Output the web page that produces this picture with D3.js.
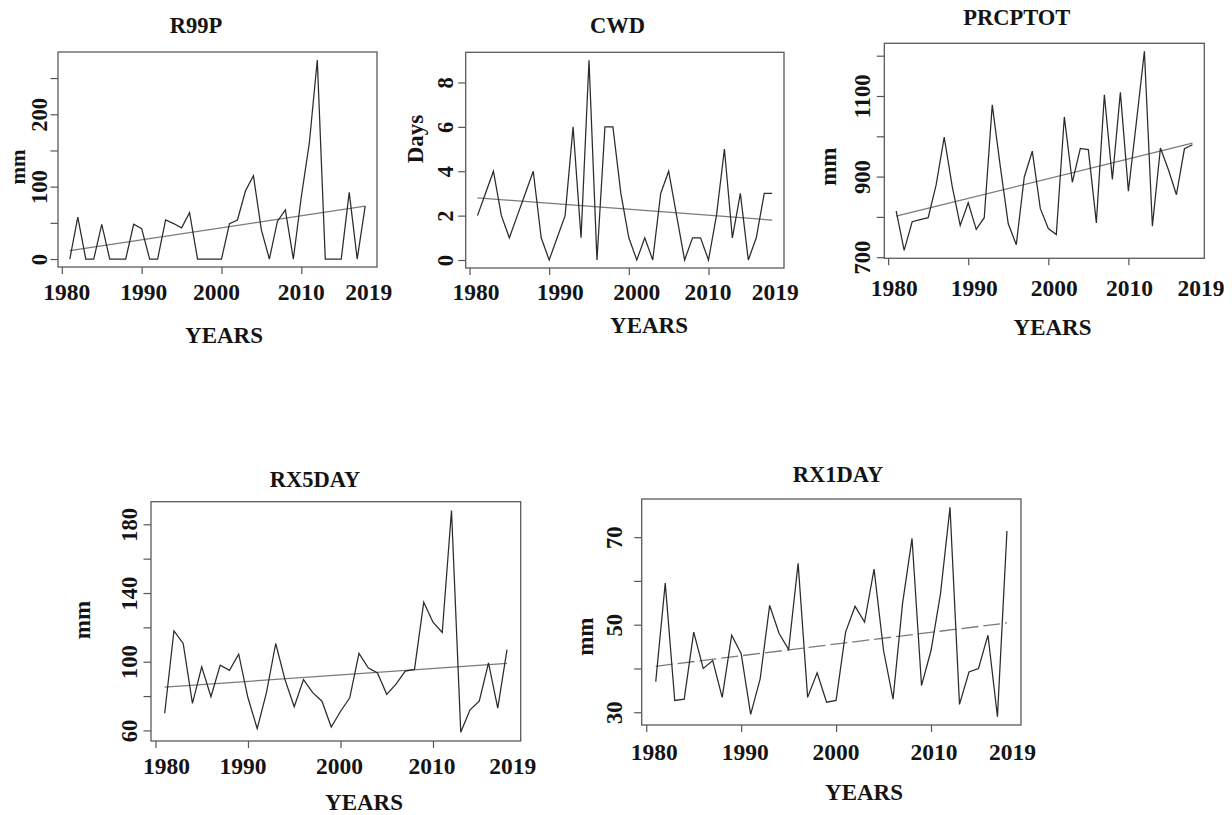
<!DOCTYPE html>
<html>
<head>
<meta charset="utf-8">
<script src="https://cdn.jsdelivr.net/npm/d3@7"></script>
<style>
	body { margin: 0; background: #fff; }
	svg { display: block; }
	svg text { font-family: 'Liberation Serif', 'Times New Roman', serif; font-weight: bold; }
</style>
</head>
<body>
<svg width="1232" height="815"></svg>
<script>
const years = d3.range(1981, 2019) // 1981 .. 2018
const r99p = [0, 58, 0, 0, 48, 0, 0, 0, 48, 42, 0, 0, 54, 49, 43, 64, 0, 0, 0, 0,
	49, 54, 94, 115, 40, 0, 52, 68, 0, 86, 160, 275, 0, 0, 0, 92, 0, 73]
const cwd = [2, 3, 4, 2, 1, 2, 3, 4, 1, 0, 1, 2, 6, 1, 9, 0, 6, 6, 3, 1,
	0, 1, 0, 3, 4, 2, 0, 1, 1, 0, 2, 5, 1, 3, 0, 1, 3, 3]
const prcptot = [815, 717, 788, 793, 798, 880, 998, 876, 779, 835, 769, 798, 1078, 926, 783, 731, 899, 963, 821, 771,
	756, 1048, 886, 970, 967, 785, 1103, 893, 1109, 864, 1035, 1211, 777, 971, 917, 855, 969, 979]
const rx5day = [70, 118, 110.6, 75.7, 97, 79.6, 98, 95, 104.4, 79, 61, 82, 110.6, 89.6, 73.8, 89.6, 82, 77, 62, 71,
	79, 104.8, 96.4, 93.5, 81, 87, 94.5, 95.5, 134.6, 123, 117, 188, 59, 72, 77, 99.3, 73, 107]
const rx1day = [37, 59.5, 32.7, 33, 48.3, 40, 41.8, 33.4, 47.6, 43.4, 29.5, 37.6, 54.4, 48, 44.3, 64, 33.4, 39, 32.3, 32.7,
	48.3, 54.2, 50.6, 62.7, 44.1, 33, 54.8, 69.7, 36.1, 44.1, 57.1, 76.8, 31.8, 39.2, 40, 47.6, 29, 71.4]

// fitted trend at first and last year
const trendYears = [1981, 2018]
const r99pTrend = [11.5, 73]
const cwdTrend = [2.8, 1.8]
const prcptotTrend = [802, 983]
const rx5dayTrend = [85.2, 99]
const rx1dayTrend = [40.5, 50.4]

const xTicks = [1980, 1990, 2000, 2010]
const xEndLabel = 2019

const panels = [
	{ title: 'R99P', ylab: 'mm', values: r99p, trend: r99pTrend,
		yTicks: [0, 50, 100, 150, 200, 250], yLabels: [0, 100, 200],
		box: [58, 52, 377, 267], titlePos: [196, 33], xlabPos: [224, 343], ylabPos: [25, 167], ylabSize: 21,
		ytOff: 11, xtOff: 33, shift: [5, 2, -5, 0, -4.5] },
	{ title: 'CWD', ylab: 'Days', values: cwd, trend: cwdTrend,
		yTicks: [0, 2, 4, 6, 8], yLabels: [0, 2, 4, 6, 8],
		box: [465.7, 52.3, 784, 268], titlePos: [617.5, 33], xlabPos: [649, 333], ylabPos: [423, 139], ylabSize: 23,
		ytOff: 12.5, xtOff: 32, shift: [6.5, 11, 8, -0.6, -5] },
	{ title: 'PRCPTOT', ylab: 'mm', values: prcptot, trend: prcptotTrend,
		yTicks: [700, 800, 900, 1000, 1100, 1200], yLabels: [700, 900, 1100],
		box: [884.3, 43.3, 1204.3, 258.3], titlePos: [1016.7, 25], xlabPos: [1052.5, 335], ylabPos: [836, 166.7], ylabSize: 23,
		ytOff: 14, xtOff: 37.5, shift: [6, 6, 6, 1, 0.5] },
	{ title: 'RX5DAY', ylab: 'mm', values: rx5day, trend: rx5dayTrend,
		yTicks: [60, 80, 100, 120, 140, 160, 180], yLabels: [60, 100, 140, 180],
		box: [151, 501.7, 520.7, 741], titlePos: [315, 486.7], xlabPos: [364, 809.5], ylabPos: [90, 620], ylabSize: 23,
		ytOff: 14, xtOff: 32.5, shift: [11, -5, -1, -1, -3.5] },
	{ title: 'RX1DAY', ylab: 'mm', values: rx1day, trend: rx1dayTrend, dashed: true,
		yTicks: [30, 40, 50, 60, 70], yLabels: [30, 50, 70],
		box: [641.7, 499, 1021, 725], titlePos: [838, 482.3], xlabPos: [864, 800], ylabPos: [593, 636.7], ylabSize: 23,
		ytOff: 20, xtOff: 35, shift: [8, 4, 0, 3, -4] },
]

const svg = d3.select('svg')
const ink = '#141414'

// R style limits: data range padded by 4% on each side
const pad = ext => {
	const p = (ext[1] - ext[0]) * 0.04
	return [ext[0] - p, ext[1] + p]
}

panels.forEach(p => {
	const [x0, y0, x1, y1] = p.box
	const x = d3.scaleLinear().domain(pad(d3.extent(years))).range([x0, x1])
	const y = d3.scaleLinear().domain(pad(d3.extent(p.values))).range([y1, y0])
	const g = svg.append('g').classed('panel', true)

	// axes: ticks pointing outward, no domain line (the box covers it)
	const gx = g.append('g')
		.attr('transform', `translate(0, ${y1})`)
		.call(d3.axisBottom(x).tickValues(xTicks).tickSize(7).tickSizeOuter(0).tickFormat(''))
	gx.select('.domain').remove()
	gx.selectAll('line').attr('stroke', '#555').attr('stroke-width', 1.2)

	const gy = g.append('g')
		.attr('transform', `translate(${x0}, 0)`)
		.call(d3.axisLeft(y).tickValues(p.yTicks).tickSize(7.5).tickSizeOuter(0)
			.tickFormat(d => p.yLabels.includes(d) ? d : ''))
		.attr('font-family', null)
		.attr('font-size', null)
	gy.select('.domain').remove()
	gy.selectAll('line').attr('stroke', '#555').attr('stroke-width', 1.2)
	gy.selectAll('text')
		.attr('x', 0).attr('dy', 0)
		.attr('transform', `translate(${-p.ytOff}, 0) rotate(-90)`)
		.attr('text-anchor', 'middle')
		.attr('fill', ink)
		.style('font-size', '22.5px')

	// year labels, 2019 has no tick of its own
	const labelYears = [...xTicks, xEndLabel]
	g.selectAll('text.xlab').data(labelYears).join('text').classed('xlab', true)
		.attr('x', (d, i) => x(d) + p.shift[i])
		.attr('y', y1 + p.xtOff)
		.attr('text-anchor', 'middle')
		.style('font-size', '23.5px')
		.attr('fill', ink)
		.text(d => d)

	const line = d3.line().x(d => x(d[0])).y(d => y(d[1]))

	g.append('path')
		.datum(d3.zip(trendYears, p.trend))
		.attr('d', line)
		.attr('fill', 'none')
		.attr('stroke', '#7a7a7a')
		.attr('stroke-width', 1.3)
		.attr('stroke-dasharray', p.dashed ? '17,5' : null)

	g.append('path')
		.datum(d3.zip(years, p.values))
		.attr('d', line)
		.attr('fill', 'none')
		.attr('stroke', '#2b2b2b')
		.attr('stroke-width', 1.25)

	g.append('rect')
		.attr('x', x0).attr('y', y0)
		.attr('width', x1 - x0).attr('height', y1 - y0)
		.attr('fill', 'none')
		.attr('stroke', '#5a5a5a')
		.attr('stroke-width', 1.3)

	g.append('text')
		.attr('x', p.titlePos[0]).attr('y', p.titlePos[1])
		.attr('text-anchor', 'middle')
		.style('font-size', '22.5px')
		.attr('fill', ink)
		.text(p.title)
	g.append('text')
		.attr('x', p.xlabPos[0]).attr('y', p.xlabPos[1])
		.attr('text-anchor', 'middle')
		.style('font-size', '23px')
		.attr('fill', ink)
		.text('YEARS')
	g.append('text')
		.attr('transform', `translate(${p.ylabPos[0]}, ${p.ylabPos[1]}) rotate(-90)`)
		.attr('text-anchor', 'middle')
		.style('font-size', p.ylabSize + 'px')
		.attr('fill', ink)
		.text(p.ylab)
})
</script>
</body>
</html>
